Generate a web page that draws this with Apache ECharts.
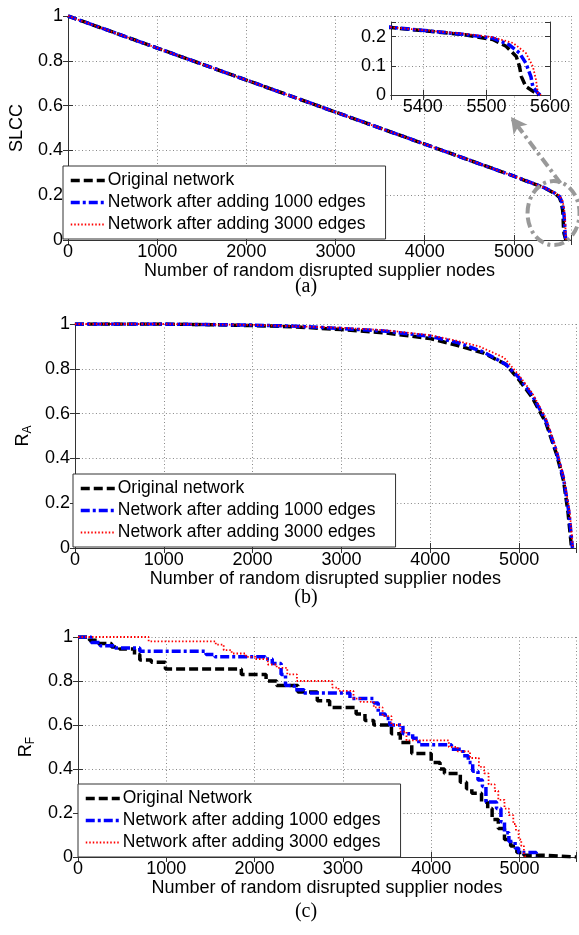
<!DOCTYPE html>
<html><head><meta charset="utf-8">
<script src="https://cdn.jsdelivr.net/npm/echarts@6/dist/echarts.min.js"></script>
<style>html,body{margin:0;padding:0;background:#fff}#c{width:579px;height:935px}</style>
</head><body><div id="c"></div>
<script>
// ---------- tick labels ----------
const xTickLabels = [0, 1000, 2000, 3000, 4000, 5000];
const yTickLabels = [0, 0.2, 0.4, 0.6, 0.8, 1];
const insetXTickLabels = [5400, 5500, 5600];
const insetYTickLabels = [0, 0.1, 0.2];

// ---------- series names ----------
const namesAB = ['Original network', 'Network after adding 1000 edges', 'Network after adding 3000 edges'];
const namesC = ['Original Network', 'Network after adding 1000 edges', 'Network after adding 3000 edges'];

// ---------- (a) SLCC ----------
const slccOriginal = [[0,1],[1000,0.857],[2000,0.714],[3000,0.571],[4000,0.428],[5000,0.285],[5350,0.231],[5411,0.218],[5463,0.207],[5510,0.19],[5531,0.167],[5547,0.132],[5552,0.098],[5555,0.063],[5562,0.029],[5578,0.006],[5582,0]];
const slcc1000 = [[0,1],[1000,0.857],[2000,0.714],[3000,0.571],[4000,0.428],[5000,0.285],[5350,0.232],[5411,0.219],[5463,0.208],[5510,0.195],[5536,0.172],[5552,0.144],[5562,0.109],[5570,0.063],[5573,0.029],[5581,0.006],[5585,0]];
const slcc3000 = [[0,1],[1000,0.857],[2000,0.714],[3000,0.571],[4000,0.428],[5000,0.285],[5350,0.232],[5411,0.22],[5463,0.21],[5510,0.198],[5542,0.178],[5562,0.144],[5573,0.098],[5578,0.052],[5581,0.006],[5586,0]];

// ---------- (b) R_A ----------
const raOriginal = [[0,1],[1000,1],[1500,0.997],[2000,0.993],[2500,0.987],[3000,0.975],[3500,0.96],[4000,0.935],[4300,0.905],[4600,0.87],[4850,0.82],[5000,0.75],[5150,0.67],[5300,0.56],[5420,0.42],[5500,0.3],[5550,0.16],[5590,0]];
const ra1000 = [[0,1],[1000,1],[2000,0.995],[2500,0.99],[3000,0.98],[3500,0.968],[4000,0.945],[4300,0.918],[4600,0.875],[4850,0.82],[5000,0.76],[5150,0.68],[5300,0.57],[5420,0.43],[5500,0.31],[5560,0.16],[5600,0]];
const ra3000 = [[0,1],[1000,1],[2000,0.996],[3000,0.983],[3500,0.972],[4000,0.95],[4300,0.925],[4550,0.9],[4830,0.85],[5000,0.77],[5150,0.69],[5300,0.58],[5420,0.44],[5500,0.32],[5570,0.16],[5605,0]];

// ---------- (c) R_F (staircases) ----------
const rfOriginal = [[0,1],[130,0.985],[230,0.97],[380,0.955],[470,0.945],[640,0.92],[700,0.895],[830,0.885],[990,0.855],[1850,0.83],[2130,0.8],[2250,0.78],[2490,0.75],[2710,0.71],[2850,0.68],[3150,0.65],[3250,0.62],[3350,0.6],[3550,0.56],[3650,0.52],[3780,0.47],[4000,0.43],[4100,0.4],[4150,0.38],[4330,0.34],[4400,0.31],[4460,0.29],[4570,0.25],[4640,0.22],[4690,0.17],[4760,0.13],[4830,0.08],[4900,0.05],[4970,0.02],[5050,0.008],[5300,0],[5640,0]];
const rf1000 = [[0,1],[150,0.975],[250,0.96],[420,0.95],[700,0.935],[1450,0.92],[1550,0.91],[2120,0.9],[2200,0.88],[2300,0.83],[2350,0.78],[2450,0.76],[2560,0.745],[3080,0.72],[3350,0.7],[3400,0.65],[3480,0.63],[3530,0.6],[3680,0.56],[3790,0.54],[3860,0.51],[4230,0.49],[4360,0.46],[4420,0.43],[4470,0.39],[4530,0.35],[4580,0.32],[4620,0.25],[4740,0.22],[4790,0.16],[4830,0.11],[4880,0.07],[4950,0.04],[4990,0.02],[5190,0]];
const rf3000 = [[0,1],[800,0.98],[1560,0.965],[1650,0.94],[1740,0.925],[1900,0.91],[2010,0.9],[2150,0.875],[2250,0.86],[2370,0.83],[2480,0.8],[2880,0.77],[2950,0.755],[3120,0.72],[3200,0.705],[3350,0.68],[3450,0.64],[3550,0.6],[3650,0.57],[3720,0.53],[4200,0.5],[4300,0.48],[4440,0.45],[4540,0.41],[4600,0.38],[4650,0.33],[4720,0.3],[4760,0.26],[4830,0.22],[4880,0.19],[4930,0.15],[4960,0.12],[4990,0.08],[5020,0.05],[5050,0.01],[5070,0]];

// ---------- annotation anchors (data coords of panel a) ----------
const zoomEllipseCenter = [5444, 0.12];
const zoomArrow = [[5522, 0.254], [4967, 0.549]];

const FONT = "'Liberation Sans', Arial, sans-serif";
const FRAME = '#333';
const STY = [
  { color: '#000', width: 3.5, type: [9, 4] },
  { color: '#0000ff', width: 3.5, type: [9, 3, 3, 3] },
  { color: '#ff0000', width: 1.8, type: [1.5, 2] }
];

function fmtFrom(list) {
  return function (v) {
    for (const t of list) if (Math.abs(t - v) < 1e-6) return String(t);
    return '';
  };
}

const grids = [
  { left: 63, top: 16, width: 508, height: 224 },      // (a)
  { left: 391, top: 22, width: 159, height: 73, z: 5, show: true, backgroundColor: '#fff', borderWidth: 0 }, // inset
  { left: 73, top: 324, width: 510, height: 224 },     // (b)
  { left: 78, top: 637, width: 504, height: 220 }      // (c)
];

const xAxes = [], yAxes = [];
const split = { show: true, lineStyle: { color: '#888', type: [1, 2.5], width: 1 } };
const lbl = { color: '#000', fontSize: 18, fontFamily: FONT };
function addAxes(gi, xr, yr, xLabels, yLabels, yName, nameGapY, opts) {
  const z = opts.z || 0;
  const common = { axisLine: { show: true, lineStyle: { color: FRAME, width: 1 } },
                   axisTick: { show: true, inside: true, length: 5, lineStyle: { color: FRAME } } };
  xAxes.push(Object.assign({ type: 'value', gridIndex: gi, position: 'bottom', min: xr[0], max: xr[1], z: z,
    splitLine: split, axisLabel: Object.assign({ margin: 3, formatter: fmtFrom(xLabels) }, lbl) }, common,
    xr.interval ? { interval: xr.interval } : { splitNumber: 3 },
    opts.xName ? { name: opts.xName, nameLocation: 'middle', nameGap: 20, nameTextStyle: { color: '#000', fontSize: 18, fontFamily: FONT } } : {}));
  xAxes.push(Object.assign({ type: 'value', gridIndex: gi, position: 'top', min: xr[0], max: xr[1], z: z,
    splitLine: { show: false }, axisLabel: { show: false } }, common,
    xr.interval ? { interval: xr.interval } : { splitNumber: 3 }));
  yAxes.push(Object.assign({ type: 'value', gridIndex: gi, position: 'left', min: yr[0], max: yr[1], interval: yr.interval, z: z,
    splitLine: split, axisLabel: Object.assign({ margin: 5, formatter: fmtFrom(yLabels) }, lbl) }, common,
    yName ? { name: yName, nameLocation: 'middle', nameRotate: 90, nameGap: nameGapY,
      nameTextStyle: { color: '#000', fontSize: 18, fontFamily: FONT,
        rich: { r: { fontSize: 18, fontFamily: FONT, color: '#000', lineHeight: 20, verticalAlign: 'top' },
                s: { fontSize: 12, fontFamily: FONT, color: '#000', lineHeight: 12, padding: [14, 0, 0, 0], verticalAlign: 'bottom' } } } } : {}));
  yAxes.push(Object.assign({ type: 'value', gridIndex: gi, position: 'right', min: yr[0], max: yr[1], interval: yr.interval, z: z,
    splitLine: { show: false }, axisLabel: { show: false } }, common));
}
function rng(a, b, iv) { const r = [a, b]; if (iv) r.interval = iv; return r; }

addAxes(0, rng(0, 5640, 1000), rng(0, 1, 0.2), xTickLabels, yTickLabels, 'SLCC', 42, { xName: 'Number of random disrupted supplier nodes' });
addAxes(1, rng(5350, 5600), rng(0, 0.25, 0.1), insetXTickLabels, insetYTickLabels, null, 0, { z: 6 });
addAxes(2, rng(0, 5640, 1000), rng(0, 1, 0.2), xTickLabels, yTickLabels, '{r|R}{s|A}', 32, { xName: 'Number of random disrupted supplier nodes' });
addAxes(3, rng(0, 5640, 1000), rng(0, 1, 0.2), xTickLabels, yTickLabels, '{r|R}{s|F}', 35, { xName: 'Number of random disrupted supplier nodes' });

function mk(name, data, st, ai, extra) {
  return Object.assign({
    type: 'line', name: name, data: data, xAxisIndex: ai * 2, yAxisIndex: ai * 2,
    symbol: 'none', showSymbol: false, silent: true, animation: false, clip: true,
    lineStyle: { color: st.color, width: st.width, type: st.type },
    itemStyle: { color: st.color }, emphasis: { disabled: true }
  }, extra || {});
}

const series = [];
const aData = [slccOriginal, slcc1000, slcc3000];
const bData = [raOriginal, ra1000, ra3000];
const cData = [rfOriginal, rf1000, rf3000];
for (let i = 0; i < 3; i++) {
  const extra = { z: 2 + i };
  if (i === 0) {
    extra.markLine = {
      silent: true, animation: false, symbol: ['none', 'arrow'], symbolSize: [13, 16],
      label: { show: false }, emphasis: { disabled: true },
      lineStyle: { color: '#999', width: 4, type: [10, 4, 3, 4] },
      data: [[{ coord: zoomArrow[0] }, { coord: zoomArrow[1] }]]
    };
  }
  series.push(mk(namesAB[i], aData[i], STY[i], 0, extra));
}
for (let i = 0; i < 3; i++) series.push(mk(namesAB[i], aData[i], STY[i], 1, { z: 7 + i }));
for (let i = 0; i < 3; i++) series.push(mk(namesAB[i], bData[i], STY[i], 2, { z: 2 + i }));
for (let i = 0; i < 3; i++) series.push(mk(namesC[i], cData[i], STY[i], 3, { z: 2 + i, step: 'end' }));

function legendAt(names, left, top) {
  return {
    data: names, orient: 'vertical', left: left, top: top, itemWidth: 34, itemHeight: 14, itemGap: 1,
    padding: [4, 20, 4, 6], borderColor: FRAME, borderWidth: 1, backgroundColor: '#fff', z: 20,
    selectedMode: false,
    itemStyle: { opacity: 0, borderWidth: 0 },
    lineStyle: { width: 'inherit', opacity: 1 },
    textStyle: { color: '#000', fontSize: 17.5, fontFamily: FONT, lineHeight: 21, padding: [0, 0, 0, -2] }
  };
}

const chart = echarts.init(document.getElementById('c'), null, { renderer: 'canvas' });
chart.setOption({
  animation: false,
  backgroundColor: '#fff',
  textStyle: { fontFamily: FONT },
  grid: grids,
  xAxis: xAxes,
  yAxis: yAxes,
  legend: [legendAt(namesAB, 63, 166), legendAt(namesAB, 73, 474), legendAt(namesC, 78, 784)],
  series: series
});

const ec = chart.convertToPixel({ gridIndex: 0 }, zoomEllipseCenter);
const capFont = "20px 'Liberation Serif', 'Times New Roman', serif";
chart.setOption({
  graphic: [
    { type: 'text', x: 306, y: 287, z: 30, style: { text: '(a)', font: capFont, fill: '#000', align: 'center', verticalAlign: 'middle' } },
    { type: 'text', x: 306, y: 598, z: 30, style: { text: '(b)', font: capFont, fill: '#000', align: 'center', verticalAlign: 'middle' } },
    { type: 'text', x: 306, y: 912, z: 30, style: { text: '(c)', font: capFont, fill: '#000', align: 'center', verticalAlign: 'middle' } },
    { type: 'ellipse', z: 30, silent: true, shape: { cx: ec[0], cy: ec[1], rx: 26, ry: 32 },
      style: { fill: 'none', stroke: '#999', lineWidth: 4, lineDash: [10, 4, 3, 4] } }
  ]
});
</script></body></html>
